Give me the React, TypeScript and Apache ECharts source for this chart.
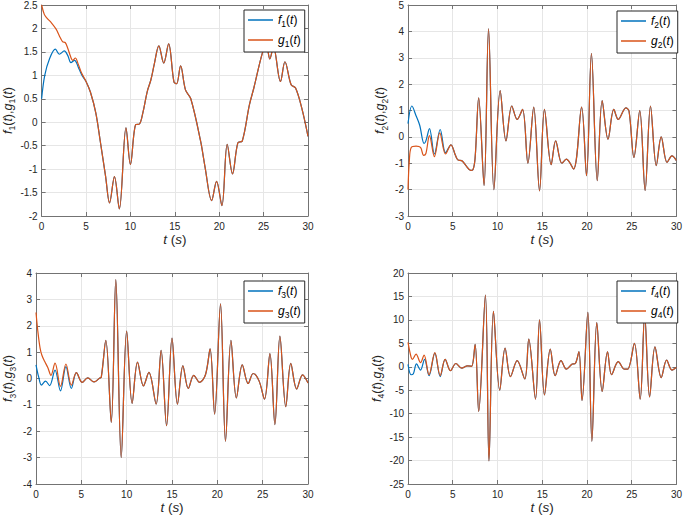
import React, { useEffect, useRef } from "react";
import * as echarts from "echarts";

// ---------- data ----------
const T_G1 = [0, 0.3, 0.6, 1.1, 1.65, 2.0, 2.35, 2.65, 2.9, 3.3, 3.5, 3.8, 4.1, 4.5, 5.0, 5.5, 6.1, 6.6, 7.2, 7.65, 8.2, 8.75, 9.5, 10.0, 10.6, 11.0, 11.4, 11.9, 12.3, 12.7, 13.2, 13.75, 14.3, 14.9, 15.2, 15.65, 16.2, 16.8, 17.9, 18.4, 19.15, 19.7, 20.3, 20.9, 21.5, 22.1, 22.6, 23.4, 23.9, 24.85, 25.3, 25.7, 26.1, 26.9, 27.4, 28.1, 28.6, 29.3, 30];
const G1 = [2.5, 2.3, 2.22, 2.12, 1.98, 1.84, 1.72, 1.7, 1.6, 1.38, 1.32, 1.37, 1.25, 1.05, 0.87, 0.64, 0.2, -0.4, -1.15, -1.72, -1.16, -1.85, -0.12, -0.9, -0.05, -0.04, 0.2, 0.66, 0.9, 1.25, 1.63, 1.26, 1.67, 0.86, 0.82, 1.2, 0.69, 0.5, -0.4, -0.95, -1.67, -1.26, -1.78, -0.47, -1.1, -0.44, -0.4, 0.37, 0.73, 1.47, 1.65, 1.35, 1.6, 0.87, 1.29, 0.8, 0.73, 0.3, -0.3];
const T_F1 = [0, 0.35, 0.9, 1.55, 2.0, 2.55, 2.95, 3.3, 3.7, 4.2, 4.6];
const F1_HEAD = [0.5, 1.0, 1.36, 1.56, 1.45, 1.52, 1.42, 1.27, 1.32, 1.14, 0.98];

const T_G2 = [0, 0.15, 0.36, 0.9, 1.4, 1.75, 2.0, 2.4, 2.95, 3.55, 4.2, 4.8, 5.3, 5.6, 6.0, 6.5, 7.0, 7.25, 7.5, 7.9, 8.5, 9.0, 9.6, 10.3, 10.95, 11.6, 12.2, 12.8, 13.4, 14.05, 14.7, 15.25, 16.0, 16.5, 17.2, 17.7, 18.5, 19.4, 19.95, 20.5, 21.15, 21.7, 22.35, 23.0, 23.5, 24.35, 24.7, 25.25, 25.9, 26.5, 27.1, 27.75, 28.3, 28.95, 29.5, 30];
const G2 = [-2.0, -0.9, -0.4, -0.35, -0.4, -0.7, -0.63, 0.05, -0.75, 0.15, -0.65, -0.3, -0.7, -0.88, -0.9, -1.1, -1.27, -1.25, -0.8, 1.48, -1.84, 4.1, -2.0, 1.75, -0.15, 1.17, 0.66, 1.04, -1.0, 1.13, -2.05, 1.04, -1.05, -0.15, -1.0, -0.84, -1.22, 1.13, -1.47, 3.17, -1.66, 1.38, -0.09, 1.04, 0.66, 1.1, 0.98, -0.78, 1.0, -2.03, 1.17, -1.09, 0.0, -0.97, -0.72, -0.9];
const T_F2 = [0, 0.44, 0.9, 1.3, 1.8, 2.0, 2.4, 2.95, 3.6, 4.2];
const F2_HEAD = [0.5, 1.17, 0.8, 0.45, -0.25, -0.15, 0.31, -0.65, 0.28, -0.6];

const T_G3 = [0, 0.2, 0.45, 0.65, 0.95, 1.3, 1.65, 2.1, 2.7, 3.3, 3.9, 4.45, 5.1, 5.7, 6.4, 7.0, 7.2, 7.7, 8.3, 8.8, 9.4, 10.0, 10.6, 11.2, 11.85, 12.45, 13.25, 13.8, 14.4, 15.0, 15.6, 16.2, 16.8, 17.4, 18.05, 18.7, 19.2, 19.7, 20.35, 20.9, 21.5, 22.1, 22.75, 23.4, 23.95, 24.6, 25.2, 25.8, 26.35, 26.9, 27.55, 28.1, 28.75, 29.4, 30];
const G3 = [2.5, 1.8, 1.15, 0.88, 0.65, 0.42, 0.12, 0.58, -0.3, 0.55, -0.25, 0.22, -0.15, 0.02, -0.13, 0.01, 0.05, 1.45, -1.66, 3.75, -3.0, 1.8, -0.94, 0.62, -0.28, 0.23, -0.97, 1.07, -1.79, 1.53, -0.97, 0.48, -0.38, 0.12, -0.15, 0.15, 1.12, -1.35, 2.83, -2.38, 1.45, -0.74, 0.52, -0.19, 0.19, -0.09, -0.78, 0.94, -1.75, 1.61, -1.07, 0.57, -0.4, 0.14, -0.17];
const T_F3 = [0, 0.3, 0.6, 1.05, 1.5, 2.1, 2.7, 3.3, 3.9];
const F3_HEAD = [0.52, 0.05, -0.25, -0.1, -0.27, 0.32, -0.47, 0.45, -0.38];

const T_G4 = [0, 0.35, 0.5, 0.9, 1.4, 1.8, 2.35, 3.0, 3.6, 4.15, 4.75, 5.35, 6.0, 6.65, 7.1, 7.5, 7.9, 8.65, 9.05, 9.55, 10.25, 10.85, 11.45, 12.2, 13.05, 13.5, 14.25, 14.7, 15.25, 15.9, 16.45, 17.1, 17.7, 18.35, 18.7, 19.1, 19.45, 20.1, 20.55, 21.1, 21.7, 22.3, 22.75, 23.5, 24.2, 24.55, 25.3, 25.95, 26.45, 27.0, 27.6, 28.3, 28.9, 29.5, 30];
const G4 = [5.2, 2.0, 1.6, 2.7, 0.9, 2.5, -1.7, 3.0, -1.9, 1.6, -0.85, 0.7, -0.3, 0.2, 0.1, 4.8, -9.5, 15.3, -20.1, 11.8, -5.0, 4.0, -2.1, 1.3, -2.6, 5.9, -6.9, 10.0, -6.0, 3.75, -1.9, 1.3, -0.5, 0.57, 0.7, 3.25, -7.2, 11.6, -15.9, 9.4, -5.25, 3.2, -1.7, 1.1, -0.5, -0.5, 5.0, -6.9, 11.0, -6.4, 4.25, -2.3, 1.4, -0.7, -0.1];
const T_F4 = [0, 0.35, 0.6, 0.95, 1.4, 1.85, 2.35, 3.0, 3.6];
const F4_HEAD = [0.5, -1.7, -1.5, 0.6, -0.7, 1.6, -1.9, 2.9, -2.1];

const X_MIN = 0, X_MAX = 30, X_STEP = 5;
const Y_RANGES = [
  { min: -2, max: 2.5, step: 0.5 },
  { min: -3, max: 5, step: 1 },
  { min: -4, max: 4, step: 1 },
  { min: -25, max: 20, step: 5 },
];

// ---------- helpers ----------
function pairs(ts: number[], ys: number[]) {
  return ts.map((t, i) => [t, ys[i]]);
}
function joinHead(ht: number[], hy: number[], gt: number[], gy: number[]) {
  const last = ht[ht.length - 1];
  return pairs(ht, hy).concat(pairs(gt, gy).filter((p) => p[0] > last));
}

const SERIES_DATA = [
  { f: joinHead(T_F1, F1_HEAD, T_G1, G1), g: pairs(T_G1, G1) },
  { f: joinHead(T_F2, F2_HEAD, T_G2, G2), g: pairs(T_G2, G2) },
  { f: joinHead(T_F3, F3_HEAD, T_G3, G3), g: pairs(T_G3, G3) },
  { f: joinHead(T_F4, F4_HEAD, T_G4, G4), g: pairs(T_G4, G4) },
];

// ---------- layout ----------
const FONT = "'Liberation Sans', Arial, Helvetica, sans-serif";
const TXT = "#262626";
const AXIS = "#737373";
const GRIDC = "#e6e6e6";
const BLUE = "#0072BD";
const ORANGE = "#D95319";

const LAYOUT = [
  { left: 36, top: 4, width: 272, height: 212, yGap: 24, legLeft: 244, legTop: 10 },
  { left: 408, top: 4, width: 273, height: 212, yGap: 19, legLeft: 617, legTop: 11 },
  { left: 36, top: 273, width: 272, height: 212, yGap: 19, legLeft: 244, legTop: 281 },
  { left: 408, top: 273, width: 273, height: 212, yGap: 22, legLeft: 617, legTop: 281 },
];

const nameRich = {
  i: { fontStyle: "italic", fontSize: 12.5, fontFamily: FONT, color: TXT, lineHeight: 18 },
  n: { fontSize: 12.5, fontFamily: FONT, color: TXT, lineHeight: 18 },
  s: { fontSize: 8.5, fontFamily: FONT, color: TXT, lineHeight: 10, verticalAlign: "bottom" },
};
const xNameRich = {
  i: { fontStyle: "italic", fontSize: 13.5, fontFamily: FONT, color: TXT, lineHeight: 18 },
  n: { fontSize: 13.5, fontFamily: FONT, color: TXT, lineHeight: 18 },
};
const legRich = {
  i: { fontStyle: "italic", fontSize: 12, fontFamily: FONT, color: "#000", lineHeight: 16 },
  n: { fontSize: 12, fontFamily: FONT, color: "#000", lineHeight: 16 },
  s: { fontSize: 8.5, fontFamily: FONT, color: "#000", lineHeight: 7, verticalAlign: "bottom" },
};

function buildOption() {
  const grid: any[] = [];
  const xAxis: any[] = [];
  const yAxis: any[] = [];
  const series: any[] = [];
  const legend: any[] = [];

  LAYOUT.forEach((L, i) => {
    const k = i + 1;
    const yr = Y_RANGES[i];
    grid.push({ left: L.left, top: L.top, width: L.width, height: L.height, containLabel: false });
    const lineStyle = { color: AXIS, width: 1 };
    const tick = { show: true, inside: true, length: 4, lineStyle: { color: AXIS, width: 1 } };
    xAxis.push({
      type: "value", gridIndex: i, min: X_MIN, max: X_MAX, interval: X_STEP,
      axisLine: { show: true, onZero: false, lineStyle },
      axisTick: tick,
      axisLabel: { color: TXT, fontSize: 10, fontFamily: FONT, margin: 5 },
      splitLine: { show: true, lineStyle: { color: GRIDC, width: 1 } },
      name: "{i|t}{n| (}{i|s}{n|)}", nameLocation: "middle", nameGap: 14,
      nameTextStyle: { rich: xNameRich },
    });
    xAxis.push({
      type: "value", gridIndex: i, position: "top", min: X_MIN, max: X_MAX, interval: X_STEP,
      axisLine: { show: true, onZero: false, lineStyle },
      axisTick: tick, axisLabel: { show: false }, splitLine: { show: false },
    });
    yAxis.push({
      type: "value", gridIndex: i, min: yr.min, max: yr.max, interval: yr.step,
      axisLine: { show: true, onZero: false, lineStyle },
      axisTick: tick,
      axisLabel: { color: TXT, fontSize: 10, fontFamily: FONT, margin: 4 },
      splitLine: { show: true, lineStyle: { color: GRIDC, width: 1 } },
      name: `{i|f}{s|${k}}{n|(}{i|t}{n|),}{i|g}{s|${k}}{n|(}{i|t}{n|)}`,
      nameLocation: "middle", nameGap: L.yGap, nameRotate: 90,
      nameTextStyle: { rich: nameRich },
    });
    yAxis.push({
      type: "value", gridIndex: i, position: "right", min: yr.min, max: yr.max, interval: yr.step,
      axisLine: { show: true, onZero: false, lineStyle },
      axisTick: tick, axisLabel: { show: false }, splitLine: { show: false },
    });
    series.push({
      name: `f${k}`, type: "line", xAxisIndex: 2 * i, yAxisIndex: 2 * i,
      data: SERIES_DATA[i].f, smooth: 0.35, symbol: "none",
      lineStyle: { color: BLUE, width: 1.2 }, itemStyle: { color: BLUE }, z: 2,
    });
    series.push({
      name: `g${k}`, type: "line", xAxisIndex: 2 * i, yAxisIndex: 2 * i,
      data: SERIES_DATA[i].g, smooth: 0.35, symbol: "none",
      lineStyle: { color: ORANGE, width: 1.2 }, itemStyle: { color: ORANGE }, z: 3,
    });
    legend.push({
      data: [`f${k}`, `g${k}`], orient: "vertical", left: L.legLeft, top: L.legTop,
      padding: [4, 4, 4, 4], itemWidth: 25, itemHeight: 1.5, itemGap: 6, icon: "rect",
      backgroundColor: "#fff", borderColor: "#262626", borderWidth: 1, borderRadius: 0,
      selectedMode: false,
      formatter: (name: string) => `{i|${name[0]}}{s|${name.slice(1)}}{n|(}{i|t}{n|)}`,
      textStyle: { rich: legRich, fontSize: 12, fontFamily: FONT },
    });
  });

  return { animation: false, backgroundColor: "#fff", grid, xAxis, yAxis, series, legend };
}

export default function App() {
  const ref = useRef<HTMLDivElement>(null);
  useEffect(() => {
    if (!ref.current) return;
    const chart = echarts.init(ref.current, undefined, { renderer: "svg" });
    chart.setOption(buildOption() as any);
    return () => chart.dispose();
  }, []);
  return (
    <div
      ref={ref}
      style={{ position: "absolute", left: 0, top: 0, width: 685, height: 515, background: "#fff" }}
    />
  );
}
